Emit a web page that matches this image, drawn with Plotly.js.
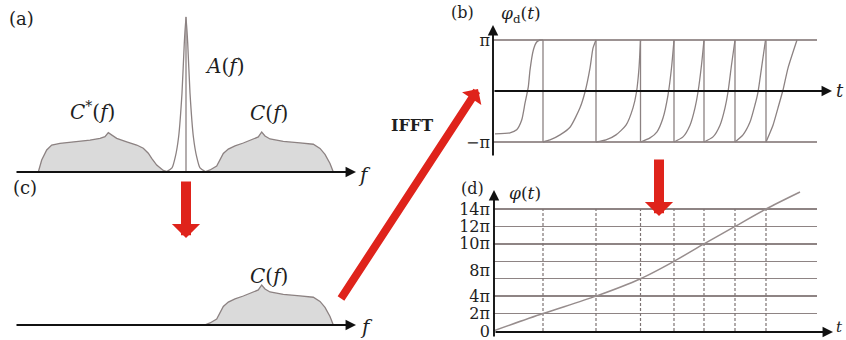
<!DOCTYPE html>
<html><head><meta charset="utf-8">
<script src="https://cdn.plot.ly/plotly-3.0.1.min.js"></script>
<style>html,body{margin:0;padding:0;background:#fff}#chart{width:846px;height:340px}</style>
</head><body><div id="chart"></div>
<script>
// ---------- Panel (a)/(c): spectra (f in arbitrary units, 0 = centre of A(f)) ----------
const fA   = [-2.0, -1.4, -1.07, -0.74, -0.4, -0.17, 0, 0.17, 0.4, 0.74, 1.07, 1.4, 2.0];
const ampA = [0, 0.026, 0.097, 0.226, 0.51, 0.832, 1.0, 0.832, 0.51, 0.226, 0.097, 0.026, 0];
const fDelta   = [0, 0];
const ampDelta = [0, 1.0];
const fCconj   = [-14.77, -14.43, -13.93, -13.43, -12.6, -10.93, -9.6, -8.6, -8.1, -7.77, -7.43, -6.93, -5.93, -4.93, -4.27, -3.77, -3.43, -2.93, -2.27, -1.77];
const ampCconj = [0, 0.077, 0.142, 0.174, 0.185, 0.195, 0.206, 0.217, 0.228, 0.254, 0.239, 0.217, 0.195, 0.174, 0.153, 0.121, 0.088, 0.045, 0.01, 0];
const fC   = [1.85, 2.4, 3.07, 3.4, 3.73, 4.23, 4.9, 5.73, 6.73, 7.23, 7.57, 7.9, 8.4, 9.73, 11.4, 12.73, 13.4, 13.9, 14.4, 14.73];
const ampC = [0, 0.013, 0.039, 0.084, 0.12, 0.148, 0.168, 0.187, 0.21, 0.226, 0.258, 0.232, 0.213, 0.198, 0.188, 0.179, 0.152, 0.114, 0.055, 0];

// ---------- Panel (b): wrapped phase phi_d(t), in units of pi (null = phase jump) ----------
const tWrapped = [0.2, 1.7, 2.37, 2.87, 3.2, 3.53, 3.7, 4.03, 4.37, 4.7, 5.0, null,
  5.0, 5.7, 6.7, 7.7, 8.7, 9.2, 9.7, 10.0, 10.3, null,
  10.3, 11.3, 12.3, 13.3, 14.0, 14.35, 14.6, 14.75, null,
  14.75, 15.7, 16.4, 17.0, 17.5, 17.85, 18.1, null,
  18.1, 19.0, 19.7, 20.2, 20.5, 20.85, 21.1, null,
  21.1, 22.0, 22.7, 23.2, 23.5, 23.85, 24.2, null,
  24.2, 25.0, 25.7, 26.2, 26.5, 26.85, 27.25, null,
  27.3, 28.0, 28.5, 29.0, 29.5, 30.4];
const phiWrapped = [-0.84, -0.82, -0.76, -0.57, -0.24, 0.08, 0.41, 0.80, 0.96, 1.0, 1.0, null,
  -1.0, -0.96, -0.86, -0.71, -0.33, -0.02, 0.45, 0.84, 1.0, null,
  -1.0, -0.96, -0.86, -0.67, -0.33, -0.02, 0.45, 1.0, null,
  -1.0, -0.92, -0.80, -0.53, -0.08, 0.45, 1.0, null,
  -1.0, -0.90, -0.67, -0.33, -0.02, 0.51, 1.0, null,
  -1.0, -0.90, -0.67, -0.33, -0.02, 0.51, 1.0, null,
  -1.0, -0.86, -0.61, -0.27, -0.02, 0.45, 1.0, null,
  -1.0, -0.67, -0.33, 0.02, 0.45, 1.0];
const gridB = [-1, 1];
const tickTextB = ['\u2212\u03c0', '\u03c0'];

// ---------- Panel (d): unwrapped phase phi(t), in units of pi ----------
const tUnwrapped   = [0, 5.0, 10.3, 14.75, 18.1, 21.1, 24.2, 27.3, 30.7];
const phiUnwrapped = [0, 2, 4, 6, 8, 10, 12, 14, 15.95];
const wrapTimes = [5.0, 10.3, 14.75, 18.1, 21.1, 24.2, 27.3];
const gridD = [2, 4, 6, 8, 10, 12, 14];
const labelPosD  = [0, 2, 4, 7, 10, 12, 14];
const labelTextD = ['0', '2\u03c0', '4\u03c0', '8\u03c0', '10\u03c0', '12\u03c0', '14\u03c0'];

// ---------- helpers ----------
const W = 846, H = 340;
const px = x => x / W;
const py = y => 1 - y / H;
const serif = 'DejaVu Serif, Liberation Serif, serif';
const curveGray = '#8c8282';
const gridGray = '#9c9292';
const red = '#df231b';

const dashX = [], dashY = [];
wrapTimes.forEach(t => { dashX.push(t, t, null); dashY.push(0, gridD[gridD.length - 1], null); });
const jumpX = [], jumpY = [];
wrapTimes.forEach(t => { jumpX.push(t, t, null); jumpY.push(gridB[1], gridB[0], null); });

const traces = [
  {x: fCconj, y: ampCconj, xaxis: 'x', yaxis: 'y', mode: 'lines', fill: 'tozeroy', fillcolor: '#dadada', line: {color: curveGray, width: 1.3}, hoverinfo: 'skip'},
  {x: fC, y: ampC, xaxis: 'x', yaxis: 'y', mode: 'lines', fill: 'tozeroy', fillcolor: '#dadada', line: {color: curveGray, width: 1.3}, hoverinfo: 'skip'},
  {x: fA, y: ampA, xaxis: 'x', yaxis: 'y', mode: 'lines', line: {color: curveGray, width: 1.3, shape: 'spline', smoothing: 0.5}, hoverinfo: 'skip'},
  {x: fDelta, y: ampDelta, xaxis: 'x', yaxis: 'y', mode: 'lines', line: {color: curveGray, width: 1.3}, hoverinfo: 'skip'},
  {x: fC, y: ampC, xaxis: 'x2', yaxis: 'y2', mode: 'lines', fill: 'tozeroy', fillcolor: '#dadada', line: {color: curveGray, width: 1.3}, hoverinfo: 'skip'},
  {x: tWrapped, y: phiWrapped, xaxis: 'x3', yaxis: 'y3', mode: 'lines', connectgaps: false, line: {color: curveGray, width: 1.3, shape: 'spline', smoothing: 0.6}, hoverinfo: 'skip'},
  {x: jumpX, y: jumpY, xaxis: 'x3', yaxis: 'y3', mode: 'lines', line: {color: curveGray, width: 1.3}, hoverinfo: 'skip'},
  {x: dashX, y: dashY, xaxis: 'x4', yaxis: 'y4', mode: 'lines', line: {color: '#7d7373', width: 1.2, dash: '3px,2px'}, hoverinfo: 'skip'},
  {x: tUnwrapped, y: phiUnwrapped, xaxis: 'x4', yaxis: 'y5', mode: 'lines', line: {color: '#978d8d', width: 1.5, shape: 'spline', smoothing: 0.8}, hoverinfo: 'skip'}
];

const hidden = {showgrid: false, zeroline: false, showticklabels: false, showline: false, ticks: '', fixedrange: true};
const tickFont = {family: serif, size: 16, color: '#1e1e1e'};

function axisArrow(x0, y0, x1, y1) {
  return {xref: 'paper', yref: 'paper', x: px(x1), y: py(y1), ax: x0 - x1, ay: y0 - y1,
    axref: 'pixel', ayref: 'pixel', text: '', showarrow: true, arrowhead: 2, arrowsize: 1.1,
    arrowwidth: 1.9, arrowcolor: '#111', standoff: 0, startstandoff: 0};
}
function redArrow(x0, y0, x1, y1, w, s) {
  return {xref: 'paper', yref: 'paper', x: px(x1), y: py(y1), ax: x0 - x1, ay: y0 - y1,
    axref: 'pixel', ayref: 'pixel', text: '', showarrow: true, arrowhead: 1, arrowsize: s,
    arrowwidth: w, arrowcolor: red, standoff: 0};
}
function label(text, x, y, size, extra) {
  return Object.assign({xref: 'paper', yref: 'paper', x: px(x), y: py(y), text: text, showarrow: false,
    xanchor: 'center', yanchor: 'middle', font: {family: serif, size: size, color: '#1e1e1e'}}, extra || {});
}

const annotations = [
  axisArrow(15, 172, 356, 172),
  axisArrow(15, 325, 356, 325),
  axisArrow(493, 91, 832, 91),
  axisArrow(493, 157, 493, 25),
  axisArrow(494, 332, 833, 332),
  axisArrow(494, 338, 494, 190),
  redArrow(186, 180, 186, 238, 10, 0.47),
  redArrow(340, 300, 478, 89, 8, 0.48),
  redArrow(659, 158, 659, 216, 10, 0.47),
  label('(a)', 21, 18, 18),
  label('<i>A</i>(<i>f</i>)', 224, 66, 20),
  label('<i>C</i><sup>*</sup>(<i>f</i>)', 92, 111, 20),
  label('<i>C</i>(<i>f</i>)', 269, 113, 20),
  label('<i>f</i>', 364, 175, 20),
  label('(c)', 25, 187, 18),
  label('<i>C</i>(<i>f</i>)', 269, 276, 20),
  label('<i>f</i>', 366, 327, 20),
  label('<b>IFFT</b>', 412, 125, 16),
  label('(b)', 462, 13, 16),
  label('<i>\u03c6</i><sub>d</sub>(<i>t</i>)', 521, 15, 17),
  label('<i>t</i>', 840, 91, 18),
  label('(d)', 472, 188, 16),
  label('<i>\u03c6</i>(<i>t</i>)', 525, 193, 17),
  label('<i>t</i>', 839, 327, 15)
];

const layout = {
  width: W, height: H, margin: {l: 0, r: 0, t: 0, b: 0}, autosize: false,
  paper_bgcolor: '#ffffff', plot_bgcolor: 'rgba(0,0,0,0)', showlegend: false,
  xaxis:  Object.assign({}, hidden, {domain: [px(15), px(345)], range: [-17.1, 15.9], anchor: 'y'}),
  yaxis:  Object.assign({}, hidden, {domain: [py(172), py(12)], range: [0, 1.032], anchor: 'x'}),
  xaxis2: Object.assign({}, hidden, {domain: [px(15), px(345)], range: [-17.1, 15.9], anchor: 'y2'}),
  yaxis2: Object.assign({}, hidden, {domain: [py(325), py(265)], range: [0, 0.387], anchor: 'x2'}),
  xaxis3: Object.assign({}, hidden, {domain: [px(493), px(817)], range: [0, 32.4], anchor: 'y3'}),
  yaxis3: Object.assign({}, hidden, {domain: [py(152.2), py(29.8)], range: [-1.2, 1.2], anchor: 'x3',
    tickmode: 'array', tickvals: gridB, ticktext: tickTextB, showticklabels: true, ticklabelstandoff: 2,
    ticklabeloverflow: 'allow', showgrid: true, gridcolor: gridGray, gridwidth: 1.4, tickfont: tickFont}),
  xaxis4: Object.assign({}, hidden, {domain: [px(493), px(817)], range: [0, 32.4], anchor: 'y4'}),
  yaxis4: Object.assign({}, hidden, {domain: [py(331), py(188)], range: [0, 16.41], anchor: 'x4',
    tickmode: 'array', tickvals: gridD, showgrid: true, gridcolor: '#8e8484', gridwidth: 1.4}),
  yaxis5: Object.assign({}, hidden, {overlaying: 'y4', range: [0, 16.41], anchor: 'x4', side: 'left',
    tickmode: 'array', tickvals: labelPosD, ticktext: labelTextD, showticklabels: true, ticklabelstandoff: 2,
    ticklabeloverflow: 'allow', tickfont: tickFont}),
  annotations: annotations
};

Plotly.newPlot('chart', traces, layout, {displayModeBar: false, staticPlot: true});
</script></body></html>
